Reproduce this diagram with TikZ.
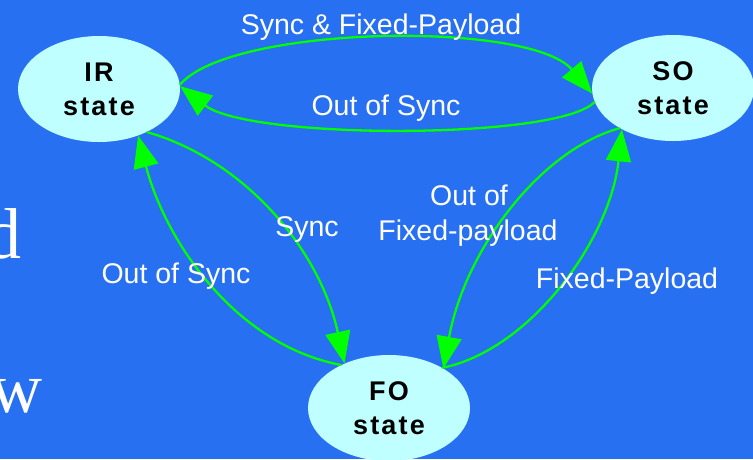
\documentclass[tikz,border=0pt]{standalone}
\usepackage{fontspec}
\setmainfont{Liberation Sans}
\newfontfamily\bigserif{Liberation Serif}
\newfontfamily\statefont[LetterSpace=8]{Liberation Sans Bold}
\usetikzlibrary{arrows.meta,shapes.geometric}
\definecolor{slidebg}{RGB}{40,112,242}
\definecolor{statefill}{RGB}{192,255,255}
\definecolor{edgegreen}{RGB}{0,255,0}
\tikzset{
  statenode/.style={ellipse, fill=statefill, minimum width=162pt, minimum height=106pt,
    inner sep=0pt, align=center, text=black,
    font=\statefont\fontsize{27}{34}\selectfont},
  trans/.style={draw=edgegreen, line width=2.3pt,
    -{Triangle[length=32pt,width=25pt]}},
  tlabel/.style={text=white, anchor=base, inner sep=0pt, align=center,
    font=\fontsize{28.5}{35}\selectfont},
  bgtext/.style={text=white, inner sep=0pt, anchor=base east,
    font=\bigserif\fontsize{72}{72}\selectfont}
}
\begin{document}
\begin{tikzpicture}[x=1pt,y=-1pt]
  % slide background
  \fill[slidebg] (0,0) rectangle (753,459);
  \clip (0,0) rectangle (753,459);

  % slide text running under the diagram
  \node[bgtext] (letterd) at (22,258) {d};
  \node[bgtext] (letterw) at (43,412) {w};

  % states
  \node[statenode] (IR) at (99,89) {IR\\state};
  \node[statenode] (SO) at (673,88) {SO\\state};
  \node[statenode] (FO) at (389,408) {FO\\state};

  % transitions
  \draw[trans] (IR.3) .. controls (230,25) and (530,20) .. (SO.184);
  \draw[trans] (SO.190) .. controls (560,140) and (250,140) .. (IR.2);
  \draw[trans] (IR.-42) .. controls (245,160) and (320,250) .. (FO.135);
  \draw[trans] (FO.138) .. controls (235,345) and (165,240) .. (IR.-50);
  \draw[trans] (SO.-143) .. controls (540,150) and (465,250) .. (FO.36);
  \draw[trans] (FO.37) .. controls (530,350) and (610,240) .. (SO.-141);

  % transition labels
  \node[tlabel] (l1) at (381,34) {Sync \& Fixed-Payload};
  \node[tlabel] (l2) at (386,115) {Out of Sync};
  \node[tlabel] (l3) at (307,236) {Sync};
  \node[tlabel] (l4) at (176,283) {Out of Sync};
  \node[tlabel] (l5) at (469,205) {Out of};
  \node[tlabel] (l6) at (468,240) {Fixed-payload};
  \node[tlabel] (l7) at (627,288) {Fixed-Payload};
\end{tikzpicture}
\end{document}
